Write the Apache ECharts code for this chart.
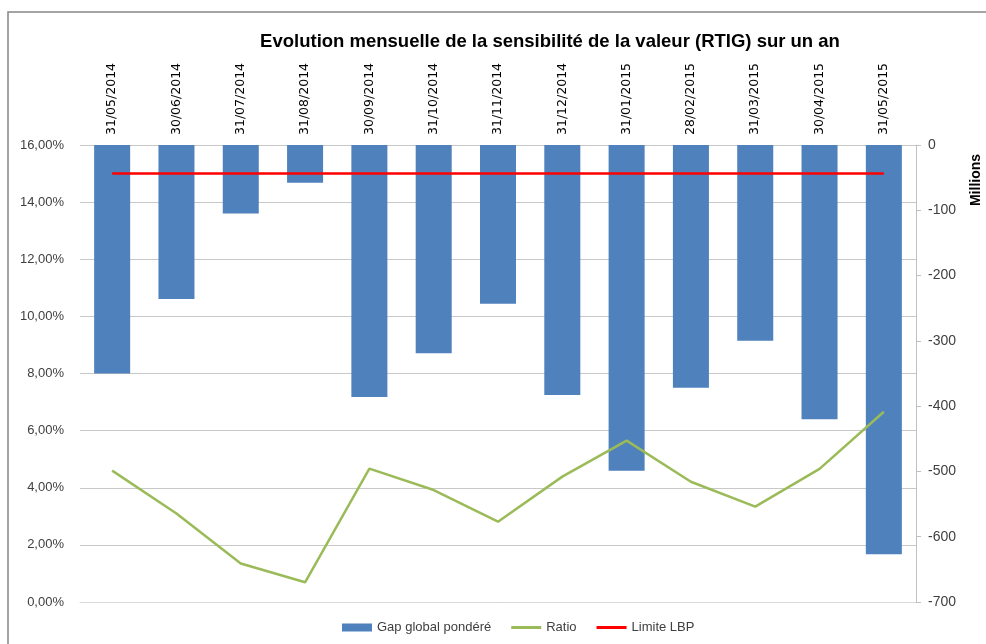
<!DOCTYPE html>
<html>
<head>
<meta charset="utf-8">
<script src="https://cdn.jsdelivr.net/npm/echarts@6/dist/echarts.min.js"></script>
<style>
  html, body { margin: 0; padding: 0; background: #fff; }
  #chart { width: 986px; height: 644px; }
</style>
</head>
<body>
<div id="chart"></div>
<script>
// dates de fin de mois
var dates = ['31/05/2014', '30/06/2014', '31/07/2014', '31/08/2014', '30/09/2014', '31/10/2014',
  '31/11/2014', '31/12/2014', '31/01/2015', '28/02/2015', '31/03/2015', '30/04/2015', '31/05/2015'];
// gap global pondere, en millions
var gapValues = [-350, -236, -105, -58, -386, -319, -243, -383, -499, -372, -300, -420, -627];
// ratio en %
var ratioValues = [4.60, 3.10, 1.35, 0.69, 4.67, 3.92, 2.81, 4.39, 5.65, 4.21, 3.34, 4.66, 6.66];
// limite LBP en %
var limitValues = [15, 15, 15, 15, 15, 15, 15, 15, 15, 15, 15, 15, 15];

var myChart = echarts.init(document.getElementById('chart'));

var font = 'Liberation Sans';
var lineIcon = 'path://M0,0H30V3H0Z';

option = {
    animation: false,
    title: {
        text: 'Evolution mensuelle de la sensibilité de la valeur (RTIG) sur un an',
        left: 545,
        textAlign: 'center',
        top: 27,
        textStyle: { fontFamily: font, fontSize: 18.5, fontWeight: 'bold', color: '#000' }
    },
    graphic: [
        {
            type: 'rect',
            shape: { x: 8, y: 12, width: 1000, height: 700 },
            style: { fill: 'none', stroke: '#868686', lineWidth: 1.5 },
            silent: true
        },
        {
            type: 'text',
            x: 976,
            y: 180,
            rotation: Math.PI / 2,
            style: {
                text: 'Millions',
                fontFamily: font,
                fontSize: 14,
                fontWeight: 'bold',
                fill: '#000',
                textAlign: 'center',
                textVerticalAlign: 'middle'
            }
        }
    ],
    legend: {
        bottom: 5,
        left: 337,
        itemWidth: 30,
        itemHeight: 8,
        itemGap: 20,
        textStyle: { fontFamily: font, fontSize: 13, color: '#404040' },
        data: [
            { name: 'Gap global pondéré', icon: 'rect' },
            { name: 'Ratio', icon: lineIcon },
            { name: 'Limite LBP', icon: lineIcon }
        ]
    },
    grid: { left: 80, right: 70, top: 145, bottom: 42 },
    xAxis: {
        type: 'category',
        position: 'top',
        data: dates,
        axisLine: { show: true, lineStyle: { color: '#d9d9d9' } },
        axisTick: { show: false },
        axisLabel: {
            rotate: 90,
            margin: 10,
            interval: 0,
            fontFamily: 'DejaVu Sans',
            fontSize: 12.5,
            color: '#000'
        }
    },
    yAxis: [
        {
            type: 'value',
            min: 0,
            max: 16,
            interval: 2,
            axisLine: { show: false },
            axisTick: { show: false },
            axisLabel: {
                margin: 16,
                fontFamily: font,
                fontSize: 13,
                color: '#404040',
                formatter: function(v) { return v.toFixed(2).replace('.', ',') + '%'; }
            },
            splitLine: { lineStyle: { color: '#c8c8c8', width: 1 } }
        },
        {
            type: 'value',
            min: -700,
            max: 0,
            interval: 100,
            position: 'right',
            axisLine: { show: true, lineStyle: { color: '#c0c0c0' } },
            axisTick: { show: true, length: 5, lineStyle: { color: '#c0c0c0' } },
            axisLabel: {
                margin: 12,
                fontFamily: font,
                fontSize: 14,
                color: '#404040'
            },
            splitLine: { show: false }
        }
    ],
    series: [
        {
            name: 'Gap global pondéré',
            type: 'bar',
            yAxisIndex: 1,
            barCategoryGap: '44%',
            itemStyle: { color: '#4f81bd' },
            data: gapValues
        },
        {
            name: 'Ratio',
            type: 'line',
            yAxisIndex: 0,
            symbol: 'none',
            lineStyle: { color: '#9bbb59', width: 2.5 },
            itemStyle: { color: '#9bbb59' },
            data: ratioValues
        },
        {
            name: 'Limite LBP',
            type: 'line',
            yAxisIndex: 0,
            symbol: 'none',
            lineStyle: { color: '#ff0000', width: 2.5 },
            itemStyle: { color: '#ff0000' },
            data: limitValues
        }
    ]
};

myChart.setOption(option);
</script>
</body>
</html>
